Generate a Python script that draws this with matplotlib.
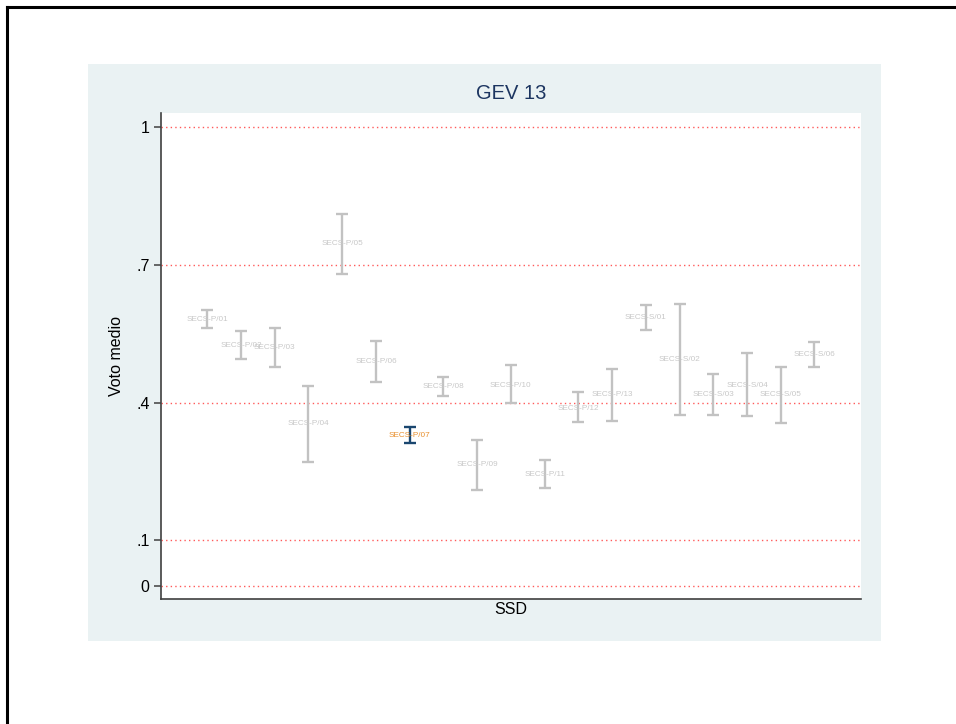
import matplotlib
matplotlib.use("Agg")
import matplotlib.pyplot as plt
from matplotlib.patches import Rectangle
from matplotlib.lines import Line2D

plt.rcParams['font.family'] = ['Liberation Sans', 'DejaVu Sans']

# SSD labels, mean vote and confidence bounds
ssd = ['SECS-P/01', 'SECS-P/02', 'SECS-P/03', 'SECS-P/04', 'SECS-P/05', 'SECS-P/06',
       'SECS-P/07', 'SECS-P/08', 'SECS-P/09', 'SECS-P/10', 'SECS-P/11', 'SECS-P/12',
       'SECS-P/13', 'SECS-S/01', 'SECS-S/02', 'SECS-S/03', 'SECS-S/04', 'SECS-S/05',
       'SECS-S/06']
mean = [0.582, 0.525, 0.520, 0.354, 0.747, 0.489, 0.329, 0.434, 0.264, 0.438,
        0.244, 0.388, 0.417, 0.585, 0.494, 0.417, 0.438, 0.417, 0.504]
upper = [0.602, 0.556, 0.563, 0.437, 0.811, 0.535, 0.346, 0.456, 0.319, 0.481,
         0.275, 0.423, 0.474, 0.613, 0.616, 0.462, 0.508, 0.478, 0.532]
lower = [0.563, 0.494, 0.477, 0.271, 0.681, 0.444, 0.312, 0.414, 0.209, 0.398,
         0.214, 0.357, 0.360, 0.558, 0.373, 0.374, 0.370, 0.356, 0.478]
highlight = 'SECS-P/07'

yticks = [0, 0.1, 0.4, 0.7, 1]
ytick_labels = ['0', '.1', '.4', '.7', '1']

fig = plt.figure(figsize=(9.56, 7.24), dpi=100)

# page border lines (top and left)
fig.add_artist(Line2D([7/956, 1], [1 - 7/724, 1 - 7/724], color='black', lw=2.2,
                      transform=fig.transFigure))
fig.add_artist(Line2D([7/956, 7/956], [0, 1 - 7/724], color='black', lw=2.2,
                      transform=fig.transFigure))

# graph region
fig.add_artist(Rectangle((88/956, 1 - 641/724), (881 - 88)/956, (641 - 64)/724,
                         transform=fig.transFigure, facecolor='#eaf2f3',
                         edgecolor='none', zorder=0))

ax = fig.add_axes([160.7/956, 1 - 599/724, (861 - 160.7)/956, (599 - 113)/724])
ax.set_facecolor('white')

for v in yticks:
    ax.axhline(v, color='#ff5a5a', lw=1.0, ls=(0, (1, 2.3)), zorder=1)

x = list(range(1, len(ssd) + 1))
for xi, name, m, lo, hi in zip(x, ssd, mean, lower, upper):
    hl = name == highlight
    ax.errorbar([xi], [m], yerr=[[m - lo], [hi - m]], fmt='none',
                ecolor='#1a476f' if hl else '#c2c2c2', elinewidth=1.7,
                capsize=4, capthick=1.7, zorder=3)
    ax.text(xi, m, name, ha='center', va='center', fontsize=5.9,
            color='#e8902f' if hl else '#c8c8c8', zorder=4)

ax.set_xlim(-0.38, 20.38)
ax.set_ylim(-0.0284, 1.0316)
ax.set_xticks([])
ax.set_yticks(yticks)
ax.set_yticklabels(ytick_labels, fontsize=11.5)
ax.tick_params(axis='y', length=5, width=1.1, color='#404040', pad=3)

for s in ['top', 'right']:
    ax.spines[s].set_visible(False)
for s in ['left', 'bottom']:
    ax.spines[s].set_color('#404040')
    ax.spines[s].set_linewidth(1.2)

ax.set_xlabel('SSD', fontsize=11.5, labelpad=2)
ax.set_ylabel('Voto medio', fontsize=11.5, labelpad=9)
ax.set_title('GEV 13', fontsize=14.5, color='#1c3560', pad=10)

fig.savefig('out.png', dpi=100)
